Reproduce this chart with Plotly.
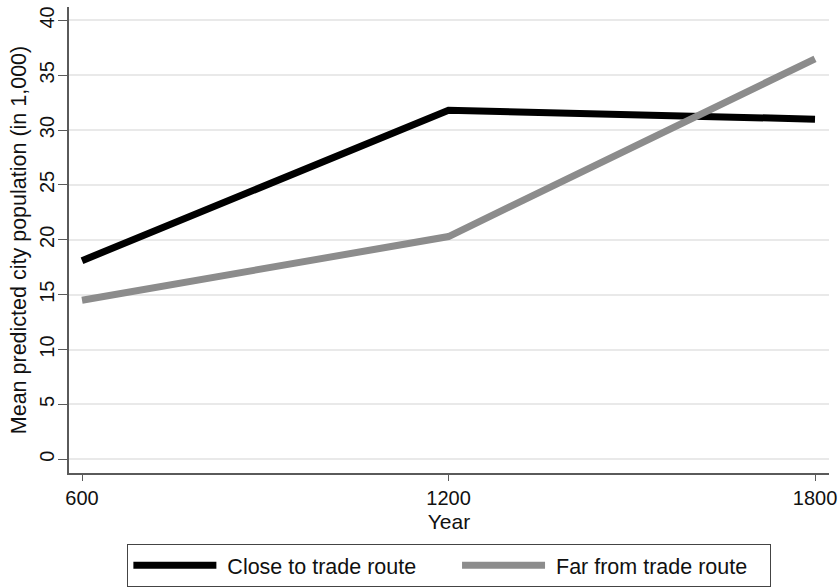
import plotly.graph_objects as go

# Mean predicted city population (thousands) by year
years = [600, 1200, 1800]
close_to_route = [18.1, 31.8, 31.0]
far_from_route = [14.5, 20.3, 36.5]
series_names = ["Close to trade route", "Far from trade route"]
series_colors = ["#000000", "#8c8c8c"]

y_ticks = [0, 5, 10, 15, 20, 25, 30, 35, 40]
x_ticks = [600, 1200, 1800]

FONT = "Liberation Sans, Arial, Helvetica, sans-serif"
AXIS_COLOR = "#5a5a5a"
NBSP = "\u00a0"

# legend labels padded with non-breaking spaces to widen the entry gaps
legend_labels = [
    NBSP + series_names[0] + NBSP * 6,
    NBSP + series_names[1] + NBSP * 3,
]

fig = go.Figure()
for label, vals, col in zip(legend_labels, [close_to_route, far_from_route], series_colors):
    fig.add_trace(go.Scatter(
        x=years, y=vals, mode="lines", name=label,
        line=dict(color=col, width=7),
    ))

fig.update_layout(
    width=839, height=588,
    margin=dict(l=69, r=10, t=7, b=115, autoexpand=False),
    paper_bgcolor="white", plot_bgcolor="white",
    font=dict(family=FONT, size=20, color="#111111"),
    showlegend=True,
    legend=dict(
        orientation="h", x=0.5005, xanchor="center", y=-0.152, yanchor="top",
        bordercolor="#444444", borderwidth=1, bgcolor="white",
        font=dict(size=21.5), itemwidth=83, traceorder="normal",
    ),
    xaxis=dict(
        range=[578.7, 1822.9], tickvals=x_ticks, ticks="outside", ticklen=6,
        tickcolor=AXIS_COLOR, showline=True, linecolor=AXIS_COLOR, linewidth=2,
        showgrid=False, zeroline=False,
        title=dict(text="Year", standoff=6, font=dict(size=21)),
        tickfont=dict(size=20),
    ),
    yaxis=dict(
        range=[-1.25, 41.22], tickvals=y_ticks, ticks="outside", ticklen=9,
        tickcolor=AXIS_COLOR, showline=True, linecolor=AXIS_COLOR, linewidth=2,
        showgrid=True, gridcolor="#e9e9e9", gridwidth=1.5, zeroline=False,
        tickangle=-90, tickfont=dict(size=20), ticklabelstandoff=-4,
        title=dict(text="Mean predicted city population (in 1,000)", standoff=3,
                   font=dict(size=21.5)),
    ),
)

fig.write_html("out.html")
